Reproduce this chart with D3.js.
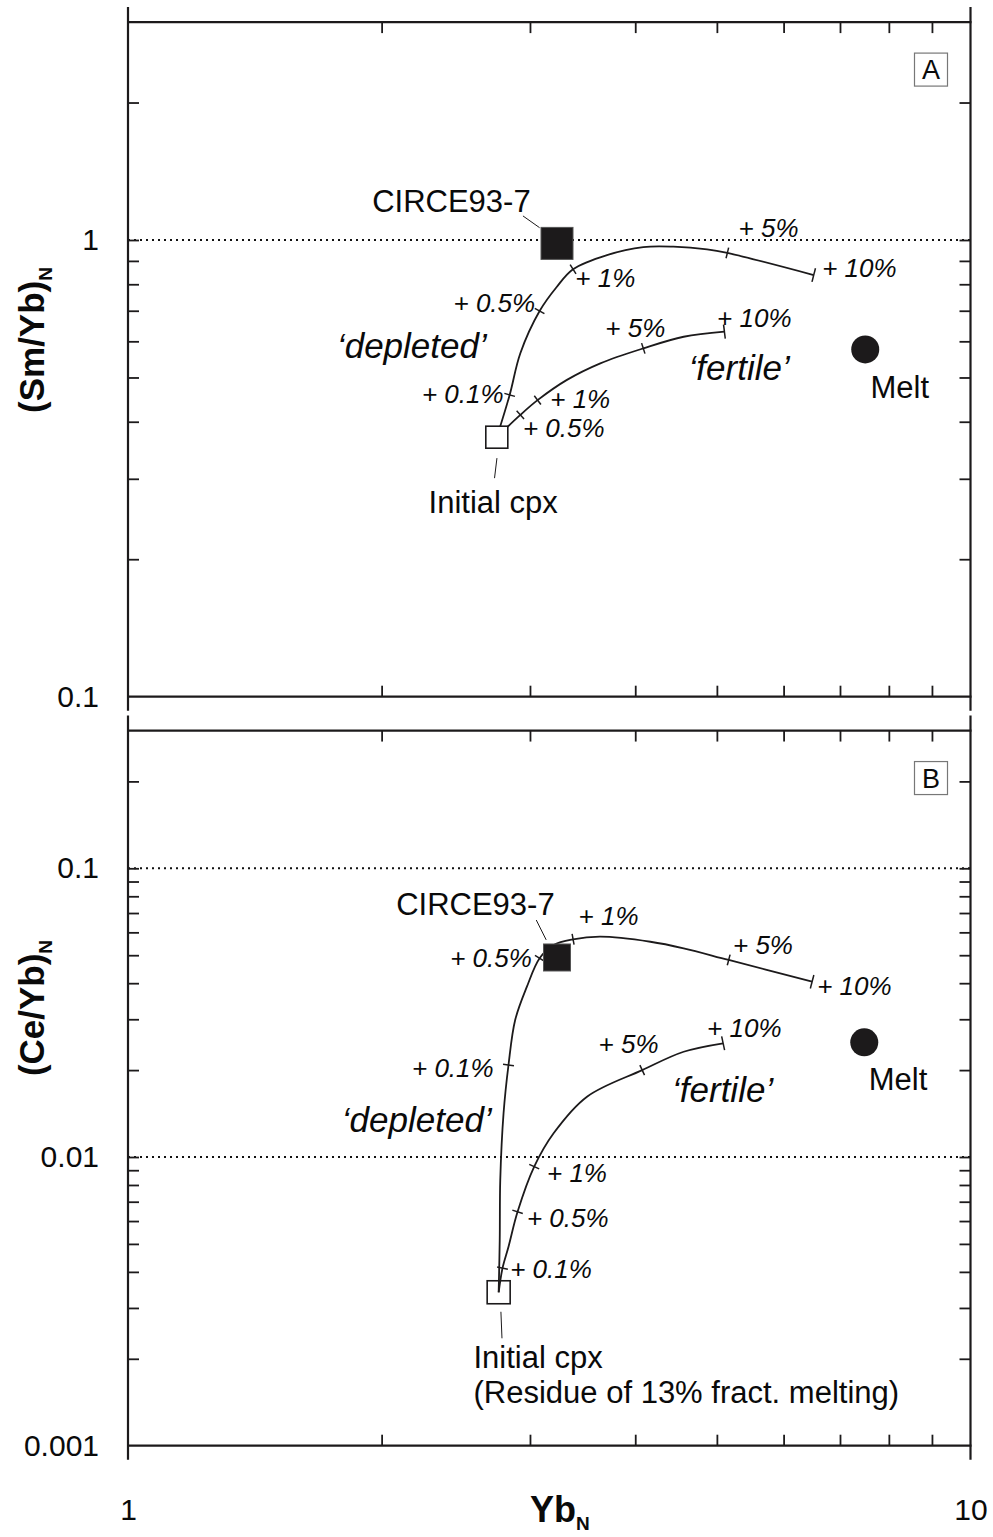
<!DOCTYPE html>
<meta charset="utf-8">
<style>
  body { margin: 0; background: #fff; }
  svg text { font-family: "Liberation Sans", Arial, sans-serif; fill: #0a0a0a; }
  .pct { font-style: italic; font-size: 26px; }
  .word { font-style: italic; font-size: 35px; }
  .plain { font-size: 31px; }
</style>
<div id="chart"></div>
<script src="https://d3js.org/d3.v7.min.js"></script>
<script>
// ---------- values ----------
var xMinorTicks = [2, 3, 4, 5, 6, 7, 8, 9];
var xTickLabels = [1, 10];

// panel A : (Sm/Yb)N
var yTicksA = [0.2, 0.3, 0.4, 0.5, 0.6, 0.7, 0.8, 0.9, 1, 2];
var yLabelsA = [0.1, 1];
var refLinesA = [1];
var depletedA = [[2.74, 0.370], [2.838, 0.458], [2.922, 0.565], [3.080, 0.699], [3.229, 0.790],
  [3.375, 0.863], [3.703, 0.927], [4.089, 0.965], [4.440, 0.967], [4.868, 0.954],
  [5.145, 0.937], [6.515, 0.838]];
var fertileA = [[2.74, 0.370], [2.922, 0.414], [3.063, 0.446], [3.319, 0.494], [3.636, 0.537],
  [4.089, 0.579], [4.566, 0.614], [5.104, 0.630]];
var depletedTicksA = [[2.838, 0.458], [3.080, 0.699], [3.375, 0.863], [5.145, 0.937], [6.515, 0.838]];
var fertileTicksA = [[2.922, 0.414], [3.063, 0.446], [4.089, 0.579], [5.104, 0.630]];
var circeA = [3.23, 0.983];
var initialA = [2.74, 0.370];
var meltA = [7.50, 0.576];
var plainA = [
  { text: "CIRCE93-7", x: 1.949, y: 1.153 },
  { text: "Melt", x: 7.608, y: 0.450 },
  { text: "Initial cpx", x: 2.274, y: 0.252 }
];
var pctA = [
  { text: "+ 0.1%", x: 2.233, y: 0.439 },
  { text: "+ 0.5%", x: 2.434, y: 0.697 },
  { text: "+ 1%", x: 3.396, y: 0.788 },
  { text: "+ 5%", x: 5.306, y: 1.014 },
  { text: "+ 10%", x: 6.667, y: 0.830 },
  { text: "+ 0.5%", x: 2.943, y: 0.371 },
  { text: "+ 1%", x: 3.171, y: 0.428 },
  { text: "+ 5%", x: 3.686, y: 0.614 },
  { text: "+ 10%", x: 5.003, y: 0.646 }
];
var wordsA = [
  { text: "\u2018depleted\u2019", x: 1.770, y: 0.551 },
  { text: "\u2018fertile\u2019", x: 4.628, y: 0.494 }
];
var leadersA = [[[2.943, 1.129], [3.080, 1.064]], [[2.741, 0.333], [2.723, 0.301]]];

// panel B : (Ce/Yb)N
var yTicksB = [0.002, 0.003, 0.004, 0.005, 0.006, 0.007, 0.008, 0.009, 0.01,
  0.02, 0.03, 0.04, 0.05, 0.06, 0.07, 0.08, 0.09, 0.1, 0.2];
var yLabelsB = [0.001, 0.01, 0.1];
var refLinesB = [0.1, 0.01];
var depletedB = [[2.754, 0.0034], [2.762, 0.00516], [2.766, 0.00832], [2.791, 0.01417], [2.829, 0.02083],
  [2.881, 0.02982], [2.975, 0.03890], [3.080, 0.04879], [3.200, 0.05425], [3.375, 0.05677],
  [3.636, 0.05796], [4.169, 0.05567], [4.566, 0.05284], [5.164, 0.04813], [6.486, 0.04047]];
var fertileB = [[2.754, 0.0034], [2.783, 0.00412], [2.829, 0.00489], [2.900, 0.00646], [3.035, 0.00926],
  [3.200, 0.01208], [3.506, 0.01618], [4.077, 0.0200], [4.566, 0.02315], [5.086, 0.02477]];
var depletedTicksB = [[2.829, 0.02083], [3.080, 0.04879], [3.375, 0.05677], [5.164, 0.04813], [6.486, 0.04047]];
var fertileTicksB = [[2.783, 0.00412], [2.900, 0.00646], [3.035, 0.00926], [4.077, 0.0200], [5.086, 0.02477]];
var circeB = [3.23, 0.0491];
var initialB = [2.754, 0.0034];
var meltB = [7.48, 0.02496];
var plainB = [
  { text: "CIRCE93-7", x: 2.081, y: 0.0689 },
  { text: "Melt", x: 7.573, y: 0.01706 },
  { text: "Initial cpx", x: 2.571, y: 0.001853 },
  { text: "(Residue of 13% fract. melting)", x: 2.571, y: 0.001406 }
];
var pctB = [
  { text: "+ 0.5%", x: 2.412, y: 0.0454 },
  { text: "+ 1%", x: 3.426, y: 0.0636 },
  { text: "+ 0.1%", x: 2.173, y: 0.01897 },
  { text: "+ 5%", x: 5.225, y: 0.0505 },
  { text: "+ 10%", x: 6.576, y: 0.0364 },
  { text: "+ 5%", x: 3.619, y: 0.02292 },
  { text: "+ 10%", x: 4.868, y: 0.0261 },
  { text: "+ 1%", x: 3.143, y: 0.00817 },
  { text: "+ 0.5%", x: 2.975, y: 0.00571 },
  { text: "+ 0.1%", x: 2.842, y: 0.00382 }
];
var wordsB = [
  { text: "\u2018depleted\u2019", x: 1.794, y: 0.01224 },
  { text: "\u2018fertile\u2019", x: 4.423, y: 0.01554 }
];
var leadersB = [[[3.052, 0.0662], [3.136, 0.0565]], [[2.771, 0.00291], [2.779, 0.002355]]];

// ---------- drawing ----------
var ink = "#1c1a1b";
var svg = d3.select("#chart").append("svg")
    .attr("width", 993)
    .attr("height", 1537);

var x = d3.scaleLog().domain([1, 10]).range([128, 970.5]);

// short bar across a curve, perpendicular to it
function tickAt(g, sx, sy, curve, pt, len) {
  var px = curve.map(function(d) { return [sx(d[0]), sy(d[1])]; });
  var cx = sx(pt[0]), cy = sy(pt[1]);
  var best = 0, bd = Infinity;
  px.forEach(function(p, i) {
    var dd = (p[0] - cx) * (p[0] - cx) + (p[1] - cy) * (p[1] - cy);
    if (dd < bd) { bd = dd; best = i; }
  });
  var a = px[Math.max(best - 1, 0)], b = px[Math.min(best + 1, px.length - 1)];
  var dx = b[0] - a[0], dy = b[1] - a[1], l = Math.sqrt(dx * dx + dy * dy);
  var nx = -dy / l, ny = dx / l;
  g.append("line")
    .attr("x1", cx - nx * len / 2).attr("y1", cy - ny * len / 2)
    .attr("x2", cx + nx * len / 2).attr("y2", cy + ny * len / 2)
    .attr("stroke", ink).attr("stroke-width", 1.5);
}

function panel(p) {
  var y = d3.scaleLog().domain(p.domain).range(p.range);
  var g = svg.append("g");
  var top = y(p.domain[1]), bot = y(p.domain[0]);

  // dotted reference lines
  g.selectAll(".ref").data(p.refLines).enter().append("line")
    .attr("x1", x(1)).attr("x2", x(10))
    .attr("y1", function(d) { return y(d); }).attr("y2", function(d) { return y(d); })
    .attr("stroke", "#111").attr("stroke-width", 2)
    .attr("stroke-dasharray", "2,4");

  // inward ticks from d3 axes
  var axes = [
    [d3.axisBottom(x).tickValues(xMinorTicks), "translate(0," + top + ")"],
    [d3.axisTop(x).tickValues(xMinorTicks), "translate(0," + bot + ")"],
    [d3.axisRight(y).tickValues(p.yTicks), "translate(" + x(1) + ",0)"],
    [d3.axisLeft(y).tickValues(p.yTicks), "translate(" + x(10) + ",0)"]
  ];
  axes.forEach(function(a) {
    var ag = g.append("g").attr("transform", a[1])
      .call(a[0].tickSize(11).tickSizeOuter(0).tickFormat(""));
    ag.select(".domain").remove();
    ag.selectAll("line").attr("stroke", ink).attr("stroke-width", 1.8);
  });

  // frame
  g.append("line").attr("x1", x(1)).attr("x2", x(10) + 1).attr("y1", top).attr("y2", top);
  g.append("line").attr("x1", x(1)).attr("x2", x(10) + 1).attr("y1", bot).attr("y2", bot);
  g.append("line").attr("x1", x(1)).attr("x2", x(1)).attr("y1", top - 15).attr("y2", bot + 14);
  g.append("line").attr("x1", x(10)).attr("x2", x(10)).attr("y1", top - 15).attr("y2", bot + 14);
  g.selectAll("line:not([stroke])").attr("stroke", ink).attr("stroke-width", 2.2);

  // y tick labels
  var lab = g.append("g").attr("transform", "translate(" + x(1) + ",0)")
    .call(d3.axisLeft(y).tickValues(p.yLabels).tickSize(0).tickPadding(29)
      .tickFormat(function(d) { return String(d); }));
  lab.select(".domain").remove();
  lab.selectAll("text").attr("font-size", 30).attr("font-family", null).attr("fill", "#0a0a0a");

  // y title
  var t = g.append("text")
    .attr("transform", "translate(44," + p.titleY + ") rotate(-90)")
    .attr("text-anchor", "middle")
    .attr("font-weight", "bold").attr("font-size", 35);
  t.append("tspan").text(p.title);
  t.append("tspan").text("N").attr("font-size", 19).attr("dy", 8);

  // panel letter
  var bx = x(10) - 56, by = top + 31;
  g.append("rect").attr("x", bx).attr("y", by).attr("width", 33).attr("height", 33)
    .attr("fill", "none").attr("stroke", "#777").attr("stroke-width", 1.2);
  g.append("text").attr("x", bx + 16.5).attr("y", by + 26).attr("text-anchor", "middle")
    .attr("font-size", 27).text(p.letter);

  // curves
  var line = d3.line()
    .x(function(d) { return x(d[0]); })
    .y(function(d) { return y(d[1]); })
    .curve(d3.curveCatmullRom.alpha(0.5));
  [p.depleted, p.fertile].forEach(function(c) {
    g.append("path").attr("d", line(c))
      .attr("fill", "none").attr("stroke", ink).attr("stroke-width", 1.8);
  });
  p.depletedTicks.forEach(function(pt, i) {
    tickAt(g, x, y, p.depleted, pt, i === p.depletedTicks.length - 1 ? 14 : 11);
  });
  p.fertileTicks.forEach(function(pt, i) {
    tickAt(g, x, y, p.fertile, pt, i === p.fertileTicks.length - 1 ? 14 : 11);
  });

  // leader lines
  p.leaders.forEach(function(l) {
    g.append("line")
      .attr("x1", x(l[0][0])).attr("y1", y(l[0][1]))
      .attr("x2", x(l[1][0])).attr("y2", y(l[1][1]))
      .attr("stroke", ink).attr("stroke-width", 1);
  });

  // samples
  var cs = p.circeSize;
  g.append("rect").attr("x", x(p.circe[0]) - cs / 2).attr("y", y(p.circe[1]) - cs / 2)
    .attr("width", cs).attr("height", cs)
    .attr("fill", ink).attr("stroke", "#555").attr("stroke-width", 1);
  var is = p.initSize;
  g.append("rect").attr("x", x(p.initial[0]) - is / 2).attr("y", y(p.initial[1]) - is / 2)
    .attr("width", is).attr("height", is)
    .attr("fill", p.initFill).attr("stroke", ink).attr("stroke-width", 1.6);
  g.append("circle").attr("cx", x(p.melt[0])).attr("cy", y(p.melt[1])).attr("r", 14)
    .attr("fill", ink);

  // annotations
  [[p.plain, "plain"], [p.pct, "pct"], [p.words, "word"]].forEach(function(s) {
    g.selectAll("text." + s[1]).data(s[0]).enter().append("text")
      .attr("class", s[1])
      .attr("x", function(d) { return x(d.x); })
      .attr("y", function(d) { return y(d.y); })
      .text(function(d) { return d.text; });
  });
}

panel({
  domain: [0.1, 3], range: [696.7, 696.7 - 456.7 * Math.log10(30)],
  yTicks: yTicksA, yLabels: yLabelsA, refLines: refLinesA,
  title: "(Sm/Yb)", titleY: 340, letter: "A",
  depleted: depletedA, fertile: fertileA,
  depletedTicks: depletedTicksA, fertileTicks: fertileTicksA,
  circe: circeA, initial: initialA, melt: meltA,
  circeSize: 32, initSize: 22, initFill: "#fff",
  plain: plainA, pct: pctA, words: wordsA, leaders: leadersA
});

panel({
  domain: [0.001, 0.3], range: [1445.7, 1445.7 - 288.7 * Math.log10(300)],
  yTicks: yTicksB, yLabels: yLabelsB, refLines: refLinesB,
  title: "(Ce/Yb)", titleY: 1008, letter: "B",
  depleted: depletedB, fertile: fertileB,
  depletedTicks: depletedTicksB, fertileTicks: fertileTicksB,
  circe: circeB, initial: initialB, melt: meltB,
  circeSize: 27, initSize: 23, initFill: "none",
  plain: plainB, pct: pctB, words: wordsB, leaders: leadersB
});

// x tick labels and title
var xl = svg.append("g").attr("transform", "translate(0,1445.7)")
  .call(d3.axisBottom(x).tickValues(xTickLabels).tickSize(0).tickPadding(53)
    .tickFormat(function(d) { return String(d); }));
xl.select(".domain").remove();
xl.selectAll("text").attr("font-size", 30).attr("font-family", null).attr("fill", "#0a0a0a");

var xt = svg.append("text").attr("x", 530).attr("y", 1522)
  .attr("font-weight", "bold").attr("font-size", 36);
xt.append("tspan").text("Yb");
xt.append("tspan").text("N").attr("font-size", 19).attr("dy", 8);
</script>
